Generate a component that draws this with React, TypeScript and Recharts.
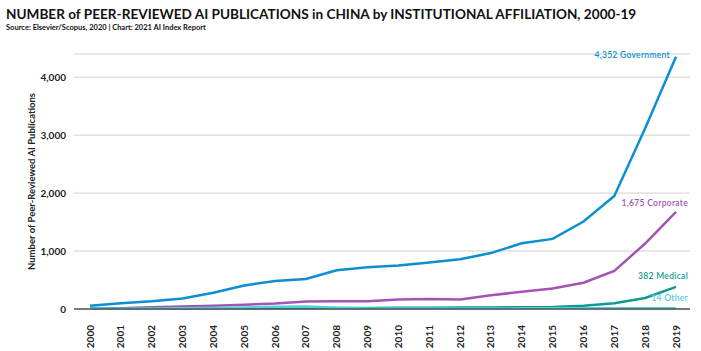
import React from "react";
import {
  LineChart,
  Line,
  XAxis,
  YAxis,
  CartesianGrid,
  LabelList,
} from "recharts";

const years = [
  "2000", "2001", "2002", "2003", "2004", "2005", "2006", "2007", "2008", "2009",
  "2010", "2011", "2012", "2013", "2014", "2015", "2016", "2017", "2018", "2019",
];
const government = [58, 98, 133, 180, 280, 407, 482, 517, 668, 720, 750, 803, 860, 965, 1135, 1210, 1510, 1950, 3120, 4352];
const corporate = [10, 15, 30, 45, 58, 75, 95, 130, 135, 135, 165, 174, 162, 238, 296, 354, 453, 656, 1130, 1675];
const medical = [5, 6, 8, 10, 12, 14, 15, 16, 17, 18, 20, 22, 24, 27, 30, 35, 55, 100, 190, 382];
const other = [4, 5, 8, 12, 18, 28, 38, 42, 20, 10, 9, 9, 10, 10, 11, 12, 12, 13, 13, 14];
const yTicks = [0, 1000, 2000, 3000, 4000];

const series = [
  { key: "government", name: "Government", color: "#0b8fd0", values: government, dx: -6, dy: -1 },
  { key: "corporate", name: "Corporate", color: "#a453b2", values: corporate, dx: 12, dy: -8 },
  { key: "medical", name: "Medical", color: "#119a91", values: medical, dx: 12, dy: -10 },
  { key: "other", name: "Other", color: "#52cfe6", values: other, dx: 12, dy: -9 },
];

const data = years.map((year, i) => ({
  year,
  government: government[i],
  corporate: corporate[i],
  medical: medical[i],
  other: other[i],
}));

const font = "Lato, 'Open Sans', sans-serif";

const YearTick = (props: any) => {
  const { x, y, payload } = props;
  return (
    <g transform={`translate(${x},${y + 8})`}>
      <text
        transform="rotate(-90)"
        textAnchor="end"
        dy="0.35em"
        fontSize={10}
        fontWeight={700}
        fill="#222"
        fontFamily={font}
      >
        {payload.value}
      </text>
    </g>
  );
};

const endLabel = (name: string, color: string, dx: number, dy: number) => (props: any) => {
  const { x, y, index, value } = props;
  if (index !== years.length - 1) return null;
  return (
    <text
      x={x + dx}
      y={y + dy}
      textAnchor="end"
      dominantBaseline="middle"
      fontSize={8.5}
      fontWeight={600}
      fill={color}
      fontFamily={font}
      letterSpacing={0.3}
    >
      {value.toLocaleString("en-US")} {name}
    </text>
  );
};

export default function App() {
  return (
    <div style={{ position: "absolute", left: 0, top: 0, width: 701, height: 351, background: "#fff", fontFamily: font }}>
      <div style={{ position: "absolute", left: 6, top: 6, fontSize: 13.6, fontWeight: 700, color: "#111", whiteSpace: "nowrap" }}>
        NUMBER of PEER-REVIEWED AI PUBLICATIONS in CHINA by INSTITUTIONAL AFFILIATION, 2000-19
      </div>
      <div style={{ position: "absolute", left: 6, top: 23, fontSize: 7.5, fontWeight: 700, color: "#111", whiteSpace: "nowrap" }}>
        Source: Elsevier/Scopus, 2020 | Chart: 2021 AI Index Report
      </div>
      <LineChart
        width={701}
        height={351}
        data={data}
        margin={{ top: 54, right: 11, bottom: 0, left: 0 }}
      >
        <CartesianGrid vertical={false} stroke="#d0d0d0" />
        <XAxis
          dataKey="year"
          padding={{ left: 16, right: 14 }}
          tickLine={false}
          axisLine={{ stroke: "#555", strokeWidth: 1.5 }}
          tick={<YearTick />}
          interval={0}
          height={42}
        />
        <YAxis
          width={74}
          domain={[0, 4400]}
          ticks={yTicks}
          tickLine={false}
          axisLine={false}
          tickFormatter={(v: number) => v.toLocaleString("en-US")}
          tick={{ fontSize: 10, fontWeight: 700, fill: "#222", fontFamily: font }}
          label={{
            value: "Number of Peer-Reviewed AI Publications",
            angle: -90,
            position: "insideLeft",
            offset: 32,
            style: { fontSize: 9.5, fontWeight: 700, fill: "#222", textAnchor: "middle", fontFamily: font },
          }}
        />
        {series.map((s) => (
          <Line
            key={s.key}
            type="linear"
            dataKey={s.key}
            stroke={s.color}
            strokeWidth={2.5}
            dot={false}
            isAnimationActive={false}
          >
            <LabelList dataKey={s.key} content={endLabel(s.name, s.color, s.dx, s.dy)} />
          </Line>
        ))}
      </LineChart>
    </div>
  );
}
